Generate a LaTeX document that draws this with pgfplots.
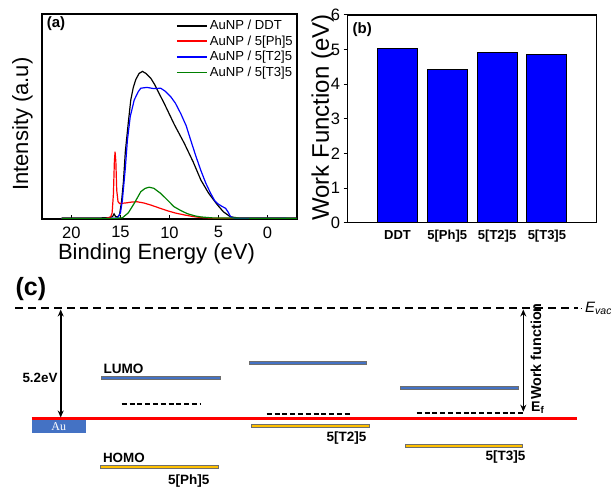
\documentclass[border=0pt]{standalone}
\usepackage{pgfplots}
\pgfplotsset{compat=1.18}
\usepackage{fontspec}
\setmainfont{Liberation Sans}
\newfontfamily\serifau{Liberation Serif}
\usetikzlibrary{arrows.meta}
\definecolor{ublue}{RGB}{68,114,196}
\definecolor{uyellow}{RGB}{255,192,0}
\definecolor{ugreen}{RGB}{0,128,0}
\definecolor{ugray}{RGB}{110,110,110}
\newcommand{\fs}[1]{\fontsize{#1}{#1}\selectfont}

\begin{document}
\begin{tikzpicture}[x=1pt,y=1pt]
\useasboundingbox (0,0) rectangle (611,-487);

% ---------------- (a) ----------------
\begin{axis}[
  at={(42pt,-14pt)}, anchor=north west, scale only axis,
  width=255pt, height=205pt,
  xmin=-3, xmax=23, x dir=reverse, ymin=0, ymax=100,
  xtick={0,5,10,15,20}, ytick=\empty,
  xtick pos=bottom, tick align=inside, major tick length=4pt,
  axis line style={line width=1.2pt},
  every tick/.style={black, line width=1pt},
  /pgf/number format/assume math mode=true,
  xticklabel style={font=\fs{16.5}, yshift=-4pt},
  xlabel={Binding Energy (eV)},
  xlabel style={font=\fs{22}, at={(axis description cs:0.449,-0.168)}, anchor=center},
  ylabel={Intensity (a.u)},
  ylabel style={font=\fs{22}, at={(axis description cs:-0.0765,0.463)}, anchor=center},
  legend style={draw=none, fill=none, at={(axis description cs:1.0,0.99)}, anchor=north east,
    font=\fs{13.1}, row sep=0.6pt, inner xsep=2pt},
  legend cell align=left,
  legend image code/.code={\draw[#1] (0pt,0pt) -- (30pt,0pt);},
  legend image post style={line width=1.9pt},
  clip=true,
]
\addplot[black, line width=1.2pt] coordinates {
(21,0.5) (18,0.5) (16.2,0.6) (15.8,1.2) (15.65,2.5) (15.5,1.2) (15.3,1.0) (15.1,2) (14.9,8) (14.7,18) (14.5,33) (14.2,47) (13.95,58) (13.7,64) (13.44,68) (13.1,71) (12.76,72) (12.4,71) (11.9,68.6) (11.5,65.5) (11.07,61.3) (10.6,57) (10.2,53) (9.5,46) (8.5,37) (7.6,28) (6.8,19) (6.0,12.5) (5.1,6.8) (4.5,3.5) (3.8,1.1) (3.0,0.5) (-3,0.5)};
\addlegendentry{AuNP / DDT}
\addplot[color=red, line width=1.2pt] coordinates {
(21,0.3) (16.5,0.3) (16.0,1) (15.85,3) (15.72,12) (15.62,28) (15.55,32.8) (15.47,28) (15.38,14) (15.25,8.5) (15.1,7.6) (14.5,7.8) (13.8,8.3) (13.3,8.4) (12.6,7.8) (11.9,6.8) (11.0,5.3) (10.2,4) (9.4,2.9) (8.5,2) (7.6,1.2) (6.8,0.7) (5.5,0.4) (-3,0.3)};
\addlegendentry{AuNP / 5[Ph]5}
\addplot[color=blue, line width=1.2pt] coordinates {
(21,0.3) (16,0.3) (15.3,0.5) (15.0,3) (14.8,9.3) (14.5,25) (14.29,38.5) (14.0,50) (13.6,58) (13.2,62) (12.93,63.8) (12.3,64.2) (11.6,63.6) (10.9,63.8) (10.4,62.2) (9.88,59.7) (9.4,56.5) (8.86,51.5) (8.3,45.5) (7.84,38.5) (7.3,30.5) (6.82,23.9) (6.3,17.5) (5.8,12.5) (5.4,9.0) (5.12,7.6) (4.7,6.3) (4.28,5.2) (4.0,3.2) (3.77,1.1) (3.4,0.4) (-3,0.3)};
\addlegendentry{AuNP / 5[T2]5}
\addplot[color=ugreen, line width=1.2pt] coordinates {
(21,0.3) (15.5,0.3) (14.8,0.6) (14.2,3) (13.6,7.6) (13.2,11) (12.93,13.3) (12.5,14.9) (12.09,15.5) (11.6,15) (10.9,12.5) (10.2,9.2) (9.54,6) (8.8,4) (8.18,2.6) (7.4,1.5) (6.8,1.0) (5.5,0.5) (-3,0.3)};
\addlegendentry{AuNP / 5[T3]5}
\node[anchor=west, font=\bfseries\fs{15}] at (axis description cs:0.005,0.951) {(a)};
\end{axis}

% ---------------- (b) ----------------
\begin{axis}[
  at={(347.7pt,-15pt)}, anchor=north west, scale only axis,
  width=249pt, height=207.7pt,
  xmin=-1, xmax=4, ymin=0, ymax=6,
  ybar, bar width=40pt,
  xtick={0,1,2,3}, xticklabels={DDT,5[Ph]5,5[T2]5,5[T3]5},
  ytick={0,1,2,3,4,5,6},
  tick pos=left, xtick align=inside, ytick align=outside, major tick length=4pt,
  axis line style={line width=1.2pt},
  every tick/.style={black, line width=1pt},
  /pgf/number format/assume math mode=true,
  xticklabel style={font=\bfseries\fs{13}, yshift=-4pt},
  yticklabel style={font=\fs{16.5}},
  ylabel={Work Function (eV)},
  ylabel style={font=\fs{24}, at={(axis description cs:-0.101,0.506)}, anchor=center},
]
\addplot[fill=blue, draw=black, line width=0.8pt] coordinates {(0,5.03) (1,4.43) (2,4.93) (3,4.87)};
\node[anchor=west, font=\bfseries\fs{15}] at (axis description cs:0.006,0.928) {(b)};
\end{axis}

% ---------------- (c) ----------------
\begin{axis}[
  at={(0pt,-260pt)}, anchor=north west, scale only axis,
  width=611pt, height=227pt,
  xmin=0, xmax=611, ymin=260, ymax=487, y dir=reverse,
  hide axis, clip=false,
]
% vacuum level
\addplot[black, line width=2pt, dash pattern=on 8pt off 5pt] coordinates {(15,308.3) (578,308.3)};
\addplot[black, line width=1.2pt] coordinates {(580.5,308.3) (582,308.3)};
% Fermi / red line
\addplot[red, line width=2.5pt] coordinates {(31.7,418.7) (576.7,418.7)};
% Au block
\addplot[fill=ublue, draw=none] coordinates {(31.7,420) (86,420) (86,433.3) (31.7,433.3)} -- cycle;
% LUMO bars
\addplot[fill=ublue, draw=ugray, line width=0.6pt] coordinates {(101.7,376) (220,376) (220,379.4) (101.7,379.4)} -- cycle;
\addplot[fill=ublue, draw=ugray, line width=0.6pt] coordinates {(249.3,361) (366.7,361) (366.7,364.4) (249.3,364.4)} -- cycle;
\addplot[fill=ublue, draw=ugray, line width=0.6pt] coordinates {(400,386) (518.3,386) (518.3,389.4) (400,389.4)} -- cycle;
% HOMO bars
\addplot[fill=uyellow, draw=ugray, line width=0.6pt] coordinates {(100.7,465.3) (218.3,465.3) (218.3,468.7) (100.7,468.7)} -- cycle;
\addplot[fill=uyellow, draw=ugray, line width=0.6pt] coordinates {(251.7,424) (369.3,424) (369.3,427.4) (251.7,427.4)} -- cycle;
\addplot[fill=uyellow, draw=ugray, line width=0.6pt] coordinates {(405,444) (522.7,444) (522.7,447.4) (405,447.4)} -- cycle;
% Fermi levels (dashed)
\addplot[black, line width=2pt, dash pattern=on 5pt off 2.8pt] coordinates {(121.7,404.3) (200,404.3)};
\addplot[black, line width=2pt, dash pattern=on 5pt off 2.8pt] coordinates {(266.7,414.3) (351.7,414.3)};
\addplot[black, line width=2pt, dash pattern=on 5pt off 2.8pt] coordinates {(416.7,413.3) (522.7,413.3)};
% arrows
\addplot[black, line width=1.6pt, {Stealth[length=7pt,width=6pt]}-{Stealth[length=7pt,width=6pt]}] coordinates {(60.7,309.5) (60.7,417.5)};
\addplot[black, line width=1.6pt, {Stealth[length=7pt,width=6pt]}-{Stealth[length=7pt,width=6pt]}] coordinates {(523.3,309.5) (523.3,411.7)};
% texts
\node[anchor=west, font=\bfseries\fs{25}] at (12,289.5) {(c)};
\node[anchor=west, font=\bfseries\fs{13.4}] at (19,378.3) {5.2eV};
\node[anchor=west, font=\bfseries\fs{13.6}] at (100,369.3) {LUMO};
\node[anchor=west, font=\bfseries\fs{13.4}] at (99.5,458.3) {HOMO};
\node[anchor=east, font=\bfseries\fs{13.5}] at (213,480.7) {5[Ph]5};
\node[anchor=east, font=\bfseries\fs{13.5}] at (370,438.3) {5[T2]5};
\node[anchor=east, font=\bfseries\fs{13.5}] at (529,457.3) {5[T3]5};
\node[font=\serifau\fs{12}, text=white] at (58.8,426.8) {Au};
\node[rotate=90, font=\bfseries\fs{14.4}] at (536,351.5) {Work function};
\node[anchor=west, font=\bfseries\fs{14}, inner sep=0pt] at (531,408) {E\textsubscript{f}};
\node[anchor=west, overlay, font=\itshape\fs{15}, inner sep=0pt] at (585,308.3) {E\textsubscript{vacc}};
\end{axis}
\end{tikzpicture}
\end{document}
